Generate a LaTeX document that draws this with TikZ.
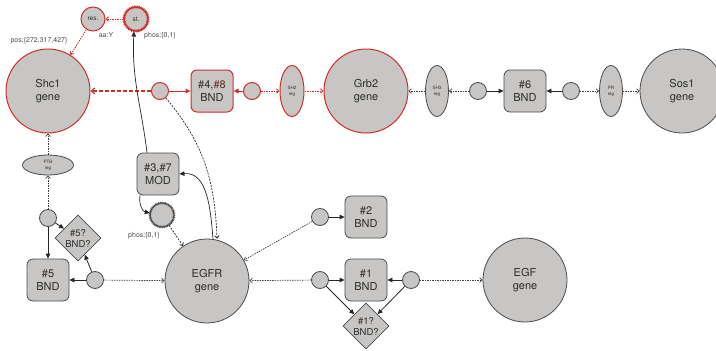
\documentclass[tikz,border=0pt]{standalone}
\usepackage{fontspec}
\setmainfont{TeX Gyre Heros}
\usetikzlibrary{positioning,arrows.meta,shapes.geometric,decorations.pathmorphing}

\definecolor{nodefill}{RGB}{200,198,196}
\definecolor{nodeline}{RGB}{75,75,75}
\definecolor{redline}{RGB}{204,48,44}
\definecolor{txt}{RGB}{45,45,45}

\tikzset{
  base/.style={draw=nodeline, fill=nodefill, line width=0.8pt, text=txt, align=center, inner sep=0pt},
  gene/.style={base, circle, minimum size=84pt, font=\fontsize{11}{13}\selectfont},
  proc/.style={base, circle, minimum size=17pt},
  bnd/.style={base, rounded corners=6pt, minimum width=42pt, minimum height=42pt, font=\fontsize{11}{13}\selectfont},
  quest/.style={base, diamond, minimum width=46pt, minimum height=46pt, font=\fontsize{9.5}{11}\selectfont},
  reg/.style={base, ellipse, font=\fontsize{4.5}{6}\selectfont},
  site/.style={base, circle, minimum size=24pt, font=\fontsize{6.5}{7}\selectfont},
  wavy/.style={decorate, decoration={zigzag, segment length=1.6pt, amplitude=0.7pt}},
  hot/.style={draw=redline, line width=1pt},
  lbl/.style={font=\fontsize{7}{8}\selectfont, text=txt!85},
  act/.style={draw=black!85, line width=0.8pt, -{Triangle[length=5pt,width=4.5pt]}},
  infl/.style={draw=black!75, line width=0.7pt, dash pattern=on 1.5pt off 1pt, -{Straight Barb[length=2.5pt,width=4.5pt]}},
  ract/.style={act, draw=redline, line width=1pt},
  rinfl/.style={infl, draw=redline, line width=0.8pt},
  rlink/.style={draw=redline, line width=1.1pt, dash pattern=on 4pt off 2pt, -{Straight Barb[length=3.5pt,width=6pt]}},
  curl/.style={draw=black!85, line width=0.7pt, dash pattern=on 2pt off 1.2pt, -{Straight Barb[length=2.5pt,width=4.5pt]}},
}

\begin{document}
\begin{tikzpicture}[x=1pt, y=-1pt, on grid]
  \useasboundingbox (0,0) rectangle (716,351);

  % top row
  \node[gene, hot] (shc) at (48,91) {Shc1\\gene};
  \node[proc, hot, right=112pt of shc] (c1) {};
  \node[bnd, hot, right=52pt of c1] (bnd48) {\#4,\textcolor{redline!35!txt}{\#8}\\BND};
  \node[proc, hot, right=40pt of bnd48] (c2) {};
  \node[reg, hot, minimum width=24pt, minimum height=51pt, right=40pt of c2] (sh2) {SH2\\reg};
  \node[gene, hot, right=74pt of sh2] (grb2) {Grb2\\gene};
  \node[reg, minimum width=23pt, minimum height=51pt, right=71pt of grb2] (sh3) {SH3\\reg};
  \node[proc, right=41pt of sh3] (c3) {};
  \node[bnd, right=47pt of c3] (bnd6) {\#6\\BND};
  \node[proc, right=46pt of bnd6] (c4) {};
  \node[reg, minimum width=23pt, minimum height=51pt, right=40pt of c4] (pr) {PR\\reg};
  \node[gene, right=71pt of pr] (sos1) {Sos1\\gene};

  % sites
  \node[site, hot, wavy] (st) at (136,19) {st.};
  \node[site, hot, left=43pt of st] (res) {res.};
  \node[lbl] (pos) at (39,41) {pos:\{272,317,427\}};
  \node[lbl] (aa) at (106,35) {aa:Y};
  \node[lbl] (stphos) at (160,36) {phos:\{0,1\}};

  % left column
  \node[reg, minimum width=51pt, minimum height=20pt, below=74pt of shc] (ptb) {PTB\\reg};
  \node[proc, below=53pt of ptb] (c5) {};
  \node[bnd, below=62pt of c5] (bnd5) {\#5\\BND};
  \node[proc, right=47pt of bnd5] (c6) {};
  \node[quest, below right=20pt and 30pt of c5] (dia5) {\#5?\\BND?};

  % EGFR and friends
  \node[gene] (egfr) at (207,281) {EGFR\\gene};
  \node[bnd] (mod) at (158,174) {\#3,\#7\\MOD};
  \node[site, wavy, below right=41pt and 4pt of mod] (phos) {};
  \node[lbl] (mphos) at (144,236) {phos:\{0,1\}};
  \node[proc] (c7) at (320,217) {};
  \node[bnd, right=46pt of c7] (bnd2) {\#2\\BND};
  \node[proc] (c8) at (320,280) {};
  \node[bnd, right=46pt of c8] (bnd1) {\#1\\BND};
  \node[proc, right=45pt of bnd1] (c9) {};
  \node[quest, below=46pt of bnd1] (dia1) {\#1?\\BND?};
  \node[gene, right=114pt of c9] (egf) {EGF\\gene};

  % red part
  \draw[rinfl] (st) -- (res);
  \draw[rinfl] (res) -- (shc);
  \draw[rlink] (c1) -- (shc);
  \draw[ract] (c1) -- (bnd48);
  \draw[ract] (c2) -- (bnd48);
  \draw[rinfl] (c2) -- (sh2);
  \draw[rinfl] (sh2) -- (grb2);

  % Grb2 -- Sos1
  \draw[infl] (sh3) -- (grb2);
  \draw[infl] (c3) -- (sh3);
  \draw[act] (c3) -- (bnd6);
  \draw[act] (c4) -- (bnd6);
  \draw[infl] (c4) -- (pr);
  \draw[infl] (pr) -- (sos1);

  % Shc1 column
  \draw[infl] (ptb) -- (shc);
  \draw[infl] (c5) -- (ptb);
  \draw[act] (c5) -- (bnd5);
  \draw[act] (c5) -- (dia5);
  \draw[act] (c6) -- (bnd5);
  \draw[act] (c6) -- (dia5);
  \draw[infl] (c6) -- (egfr);

  % modification
  \draw[curl] (c1) to[out=-50,in=92] ([xshift=10pt]egfr.north);
  \draw[act, line width=0.7pt] ([xshift=6pt]egfr.north) to[out=95,in=5] (mod.east);
  \draw[act, line width=0.7pt] ([xshift=-11pt]mod.north) to[out=97,in=-93] ([xshift=-2pt]st.south);
  \draw[act, line width=0.7pt] ([xshift=-18pt]mod.south) to[out=-100,in=170] (phos);
  \draw[curl] (phos) -- (egfr);

  % EGF side
  \draw[infl] (c7) -- (egfr);
  \draw[act] (c7) -- (bnd2);
  \draw[infl] (c8) -- (egfr);
  \draw[act] (c8) -- (bnd1);
  \draw[act] (c8) -- (dia1);
  \draw[act] (c9) -- (bnd1);
  \draw[act] (c9) -- (dia1);
  \draw[infl] (c9) -- (egf);
\end{tikzpicture}
\end{document}
